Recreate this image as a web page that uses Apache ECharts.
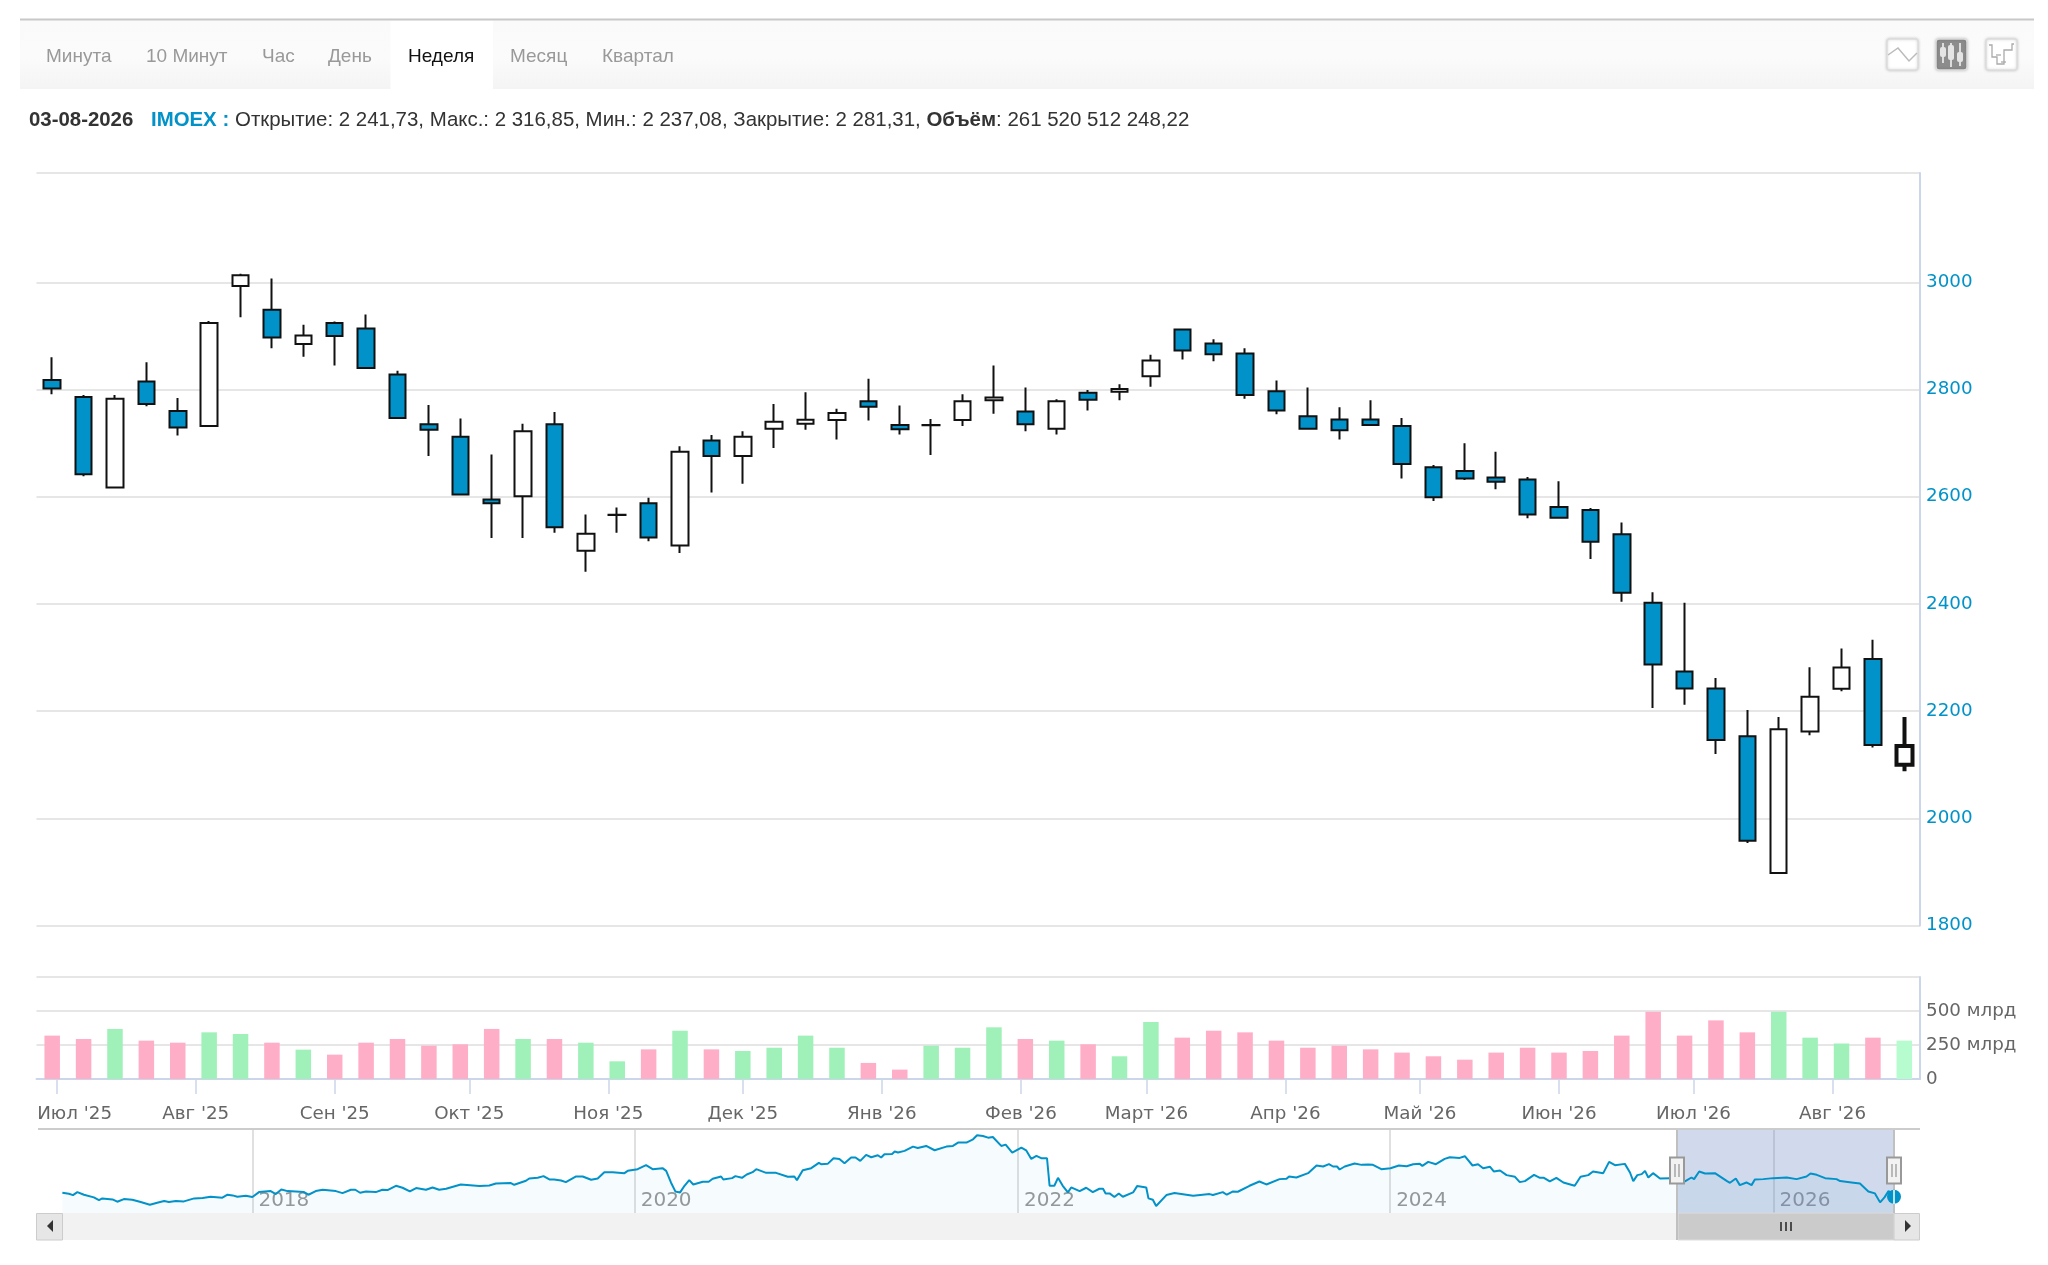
<!DOCTYPE html>
<html><head><meta charset="utf-8">
<style>html,body{margin:0;padding:0;background:#fff}#c{width:2048px;height:1265px}</style>
<script src="https://cdn.jsdelivr.net/npm/echarts@6/dist/echarts.min.js"></script>
</head><body><div id="c"></div>
<script>
const weeks=['2025-06-30','2025-07-07','2025-07-14','2025-07-21','2025-07-28','2025-08-04','2025-08-11','2025-08-18','2025-08-25','2025-09-01','2025-09-08','2025-09-15','2025-09-22','2025-09-29','2025-10-06','2025-10-13','2025-10-20','2025-10-27','2025-11-03','2025-11-10','2025-11-17','2025-11-24','2025-12-01','2025-12-08','2025-12-15','2025-12-22','2025-12-29','2026-01-05','2026-01-12','2026-01-19','2026-01-26','2026-02-02','2026-02-09','2026-02-16','2026-02-23','2026-03-02','2026-03-09','2026-03-16','2026-03-23','2026-03-30','2026-04-06','2026-04-13','2026-04-20','2026-04-27','2026-05-04','2026-05-11','2026-05-18','2026-05-25','2026-06-01','2026-06-08','2026-06-15','2026-06-22','2026-06-29','2026-07-06','2026-07-13','2026-07-20','2026-07-27','2026-08-03','2026-08-10','2026-08-17'];
const opens=[2818,2786,2617,2815,2760,2732,2993,2949,2885,2924,2914,2828,2735,2712,2595,2601,2735,2499,2566,2588,2509,2705,2676,2727,2736,2743,2778,2734,2733.5,2743,2780,2759,2727,2794,2796,2825,2912,2886,2867,2797,2750,2744,2744,2732,2655,2648,2636,2632,2581,2575,2530,2402,2274,2242,2153,1898,2162,2241.73,2297,2100];
const closes=[2802,2642,2783,2773,2729,2924,3013,2897,2901,2900,2840,2747,2725,2604,2588,2722,2543,2531,2566.6,2524,2684,2676,2712,2740,2743.5,2756,2768,2726,2734,2778,2785,2735,2778,2781,2801,2854,2873,2866,2790,2761,2727,2724,2734,2661,2599,2634,2628,2567,2561,2516,2421,2287,2242,2146,1958,2166,2227,2281.31,2137,2135];
const lows=[2791,2638,2616,2769,2714,2732,2935,2877,2861,2845,2840,2747,2676,2604,2523,2523,2533,2460,2533,2517,2495,2608,2624,2691,2725,2707,2742,2716,2678,2732,2755,2722,2716,2761,2780,2805,2856,2853,2783,2754,2727,2707,2733,2634,2592,2631,2614,2560,2561,2484,2404,2206,2212,2120,1954,1898,2155,2237.08,2132,2088];
const highs=[2860,2790,2790,2851,2784,2928,3016,3007,2921,2927,2940,2835,2771,2746,2679,2736,2758,2567,2580,2598,2694,2715,2722,2773,2795,2764,2820,2770,2745,2791,2845,2804,2782,2799,2810,2865,2912,2894,2877,2817,2804,2767,2780,2747,2659,2700,2684,2637,2629,2579,2552,2422,2402,2262,2202,2189,2282,2316.85,2333,2189];
const volumes=[319,294,368,282,267,343,331,267,216,179,267,294,245,255,368,294,294,267,130,218,355,218,206,230,319,230,118,69,245,230,380,294,282,255,167,419,304,355,343,282,230,245,218,194,167,142,194,230,194,206,319,495,319,431,343,495,304,261,304,282];
const monthTicks=['2025-07-01','2025-08-01','2025-09-01','2025-10-01','2025-11-01','2025-12-01','2026-01-01','2026-02-01','2026-03-01','2026-04-01','2026-05-01','2026-06-01','2026-07-01','2026-08-01'];
const monthNames=['Янв','Фев','Март','Апр','Май','Июн','Июл','Авг','Сен','Окт','Ноя','Дек'];
const priceTicks=[1800,2000,2200,2400,2600,2800,3000];
const volumeTicks=[0,250,500,750];
// navigator: trading weeks counted from Jan 2018, index close
const navWeeks=[-51.9,-50.1,-49,-47.8,-46,-43.3,-41.9,-41,-38.2,-36.9,-35.1,-32.8,-30.5,-28,-26,-24.1,-22.8,-20.9,-18.7,-15.9,-13.6,-11.4,-8.2,-6.8,-5.4,-4.1,-1.8,0,1.8,5,6.4,7.9,9.6,14.1,15.3,17.3,19.2,22.8,24.6,26.9,28.1,29.4,31,33.7,35.5,36.9,39.2,41,43,44.7,47.4,49.2,51,52.9,56.9,62,64.7,66.5,70.6,71.5,74.7,75.6,77.9,79.5,81.1,
82.4,84.3,85.6,88.4,90.2,92.5,94.3,96.1,98.4,101.6,102.5,105.2,107.5,109.3,112,113,114.3,115.5,116.8,118,119.3,120.4,123,124.6,125.7,128,128.6,131,131.9,133.7,135,136.6,137.6,140.3,143,146.2,148,148.7,150.3,152.6,154.7,155.3,157.1,158.7,160.3,161.7,163.5,164.7,166,167.6,169,170.8,171.7,172.6,174.7,175.4,176.3,178.1,180.4,181.7,184,186.3,189.5,191.3,192.7,195,196.8,197.9,199.5,200.9,202.2,204.5,205.7,207.5,210,211.3,212.7,214.1,215.4,217,217.7,
219,220,221.3,222.7,223.6,225.9,227.7,229.5,231.3,232.3,233,234.1,235.4,236.6,237.7,240.5,241.6,244.1,244.7,245.9,246.8,249.6,251.8,256.9,261.4,262.3,265,266.1,267.8,269.1,272.3,275,276.9,280.5,282.4,283.1,285.1,288.3,290.6,292.4,294,295.1,296.2,296.9,298.3,301,302.9,304.7,306,308.3,310.8,313.1,315.2,317,318.8,319.5,321.1,323.2,325.6,327,329.7,331.1,333.2,334.7,336.1,338,339,340.7,342.5,344.8,346.1,347.5,350,351.6,352.7,354.3,
356.1,358,361.1,362.7,364.8,366.1,368.9,370.5,372.1,374.8,376.2,377.1,378.2,379.4,380.3,381.2,382.5,384.4,387.1,389.4,391.2,393,393.7,395.1,396.7,399.4,402.6,403.5,405.1,406.2,408,409.4,410.3,412.6,415.3,419,421.7,424.4,425.5,427.2,429.5,432.6,433.6,436.7,439,441.3,443.1,444.5,445.7,446.8,448.3];
const navValues=[2286,2252,2206,2308,2218,2127,2036,2093,2059,1980,2070,2048,1968,1877,1946,2002,1968,2002,1991,2093,2104,2150,2116,2218,2195,2150,2184,2138,2308,2342,2240,2399,2342,2308,2218,2342,2388,2342,2274,2388,2388,2286,2331,2308,2388,2376,2524,2456,2331,2445,2388,2467,2388,2422,2569,2513,2535,2603,2615,2558,2694,2773,2796,2853,2739,
2739,2705,2649,2841,2841,2728,2773,2989,2989,2955,3034,3091,3227,3091,3125,3034,2637,2331,2297,2524,2717,2569,2660,2660,2762,2841,2739,2785,2853,2796,2910,2989,3091,2966,2966,2830,2841,2717,3057,3125,3306,3261,3272,3465,3442,3295,3488,3488,3374,3579,3499,3567,3488,3601,3613,3692,3658,3715,3862,3817,3885,3737,3862,3885,3998,3998,4111,4248,4225,4168,4191,3885,3930,3658,3828,3737,3442,3544,3465,3465,2524,
2524,2796,2524,2297,2467,2342,2456,2308,2422,2422,2263,2263,2138,2263,2150,2297,2513,2467,2093,2048,1832,2206,2274,2184,2240,2206,2308,2218,2331,2320,2524,2671,2569,2751,2762,2841,2807,2955,3216,3182,3261,3182,3182,3080,3182,3284,3238,3250,3238,3091,3125,3216,3193,3261,3272,3204,3340,3261,3442,3499,3476,3533,3216,3261,3125,3170,3012,3046,2887,2830,2649,2683,2898,2796,2796,2671,
2796,2637,2524,2830,2887,3012,2955,3340,3227,3272,2977,2683,2887,2921,3034,2807,2955,2773,2785,2785,2671,2807,2751,3012,2943,2955,2694,2626,2773,2546,2637,2546,2739,2751,2785,2807,2751,2841,2943,2898,2785,2751,2683,2637,2603,2331,2263,1957,2127,2343,2150];
const navYearWeeks=[0,104.4,209.1,310.7,415.4];
const navYears=['2018','2020','2022','2024','2026'];
const tabs=[['Минута',46],['10 Минут',146],['Час',262],['День',328],['Неделя',408],['Месяц',510],['Квартал',602]];

const ts=s=>Date.parse(s+'T00:00:00Z');
const BLUE='#0092c8',INK='#111',GRIDC='#e6e6e6',AXISC='#ccd6eb';
const halfWeek=3.5*864e5, xMin=ts(weeks[0])-halfWeek, xMax=ts(weeks[59])+halfWeek;
const NV=Math.min(navWeeks.length,navValues.length);
const navData=[];for(let i=0;i<NV;i++)navData.push([navWeeks[i],navValues[i]]);
const candleData=weeks.map((d,i)=>{
  const value=[ts(d),opens[i],closes[i],lows[i],highs[i]];
  return i===59?{value,itemStyle:{borderWidth:4,borderColor:INK,borderColor0:INK}}:value;
});
const volData=weeks.map((d,i)=>({value:[ts(d),volumes[i]],itemStyle:{color:closes[i]>opens[i]?(i===59?'#b6fccf':'#a0f0b9'):'#ffaec8'}}));

const G=[];
const rect=(x,y,w,h,style,z,r)=>G.push({type:'rect',silent:true,z:z||1,shape:{x,y,width:w,height:h,r:r||0},style});
const line=(x1,y1,x2,y2,stroke,lineWidth,z)=>G.push({type:'line',silent:true,z:z||5,shape:{x1,y1,x2,y2},style:{stroke,lineWidth:lineWidth||1}});
const poly=(points,stroke,lineWidth)=>G.push({type:'polyline',silent:true,z:6,shape:{points},style:{stroke,lineWidth:lineWidth||1.5,fill:null}});
const tri=(points,fill)=>G.push({type:'polygon',silent:true,z:6,shape:{points},style:{fill}});
// tab strip
rect(20,19.5,2014,69.5,{fill:{type:'linear',x:0,y:0,x2:0,y2:1,colorStops:[{offset:0,color:'#fafafa'},{offset:.55,color:'#fbfbfb'},{offset:1,color:'#f4f4f4'}]}});
rect(390.5,20.5,102.5,68.5,{fill:'#fff'},2);
line(20,19.5,2034,19.5,'#c8c8c8',2);
tabs.forEach(t=>G.push({type:'text',silent:true,z:5,x:t[1],y:57,style:{text:t[0],font:'19px "Liberation Sans"',fill:t[0]==='Неделя'?'#111':'#999',verticalAlign:'middle'}}));
// chart type buttons
[[1887,'#fff'],[1936,'#8c8c8c'],[1986,'#fff']].forEach(b=>rect(b[0],39,31,31,{fill:b[1],stroke:'#ddd',lineWidth:1.5,shadowBlur:3,shadowColor:'rgba(0,0,0,.18)'},3,3));
poly([[1888,55],[1898,48],[1909,61],[1917,53]],'#bbb',1.5);
[[1943,47,10,43,63],[1951,45,15,43,67],[1960,52,10,43,66]].forEach(c=>{line(c[0],c[3],c[0],c[4],'#ddd',2,6);rect(c[0]-3,c[1],6,c[2],{fill:'#e4e4e4'},7,2);});
poly([[1989,45],[1992,45],[1992,57],[1997,57],[1997,64],[2004,64],[2004,50],[2012,50],[2012,44],[2014,44]],'#aaa',1.3);
line(1996,55,2001,55,'#aaa',1.3,6);line(2001,62,2006,62,'#aaa',1.3,6);
// info line
G.push({type:'text',silent:true,z:5,x:29,y:120,style:{text:'03-08-2026',font:'bold 20.4px "Liberation Sans"',fill:'#333',verticalAlign:'middle'}});
G.push({type:'text',silent:true,z:5,x:151,y:120,style:{text:'IMOEX :',font:'bold 20.4px "Liberation Sans"',fill:'#0092c8',verticalAlign:'middle'}});
G.push({type:'text',silent:true,z:5,x:235,y:120,style:{text:'{a|Открытие: 2 241,73, Макс.: 2 316,85, Мин.: 2 237,08, Закрытие: 2 281,31, }{b|Объём}{a|: 261 520 512 248,22}',verticalAlign:'middle',rich:{a:{font:'20.45px "Liberation Sans"',fill:'#333'},b:{font:'bold 20.45px "Liberation Sans"',fill:'#333'}}}});
// navigator frame and scrollbar
line(38,1129,1920,1129,'#ccc',2);
rect(62,1213,1615,27,{fill:'#f2f2f2'});
rect(36.5,1213.5,26,26.5,{fill:'#e6e6e6',stroke:'#ccc',lineWidth:1},2);
tri([[53,1220],[53,1232],[47,1226]],'#333');
rect(1678,1213,216,27,{fill:'#cbcbcb',stroke:'#ddd',lineWidth:1},2);
line(1781,1222,1781,1231,'#222',1.5);line(1786,1222,1786,1231,'#222',1.5);line(1791,1222,1791,1231,'#222',1.5);
rect(1894,1213.5,25.5,26.5,{fill:'#e6e6e6',stroke:'#ccc',lineWidth:1},2);
tri([[1905,1220],[1905,1232],[1911,1226]],'#333');
// selection edges and handles
line(1677,1129,1677,1240,'#c0c0c0',2,4);line(1894,1129,1894,1213,'#c0c0c0',2,4);
[1677,1894].forEach(x=>{rect(x-7,1157.5,14,26,{fill:'#f2f2f2',stroke:'#999',lineWidth:2},9);line(x-2,1164,x-2,1177,'#999',1.3,10);line(x+2,1164,x+2,1177,'#999',1.3,10);});
line(1894,1190,1894,1204,'#fff',1.5,12);

const option={
  animation:false,backgroundColor:'#fff',
  grid:[
    {left:36.5,width:1883.5,top:173,height:752.5},
    {left:36.5,width:1883.5,top:977,height:102},
    {left:36.5,width:1883.5,top:1129,height:84}
  ],
  xAxis:[
    {gridIndex:0,type:'value',min:xMin,max:xMax,show:false},
    {gridIndex:1,type:'value',min:xMin,max:xMax,offset:9,
     axisLine:{show:true,lineStyle:{color:AXISC,width:2}},
     axisTick:{show:true,length:15,customValues:monthTicks.map(ts),lineStyle:{color:AXISC,width:1.5}},
     axisLabel:{show:true,margin:17.5,color:'#666',fontSize:18.3,fontFamily:'DejaVu Sans',hideOverlap:false,showMinLabel:true,showMaxLabel:true,
       customValues:[ts('2025-07-05')].concat(monthTicks.slice(1).map(ts)),
       formatter:v=>{const d=new Date(v);return monthNames[d.getUTCMonth()]+" '"+String(d.getUTCFullYear()).slice(2);}},
     splitLine:{show:false}},
    {gridIndex:2,type:'value',min:-58.96,max:455.4,
     axisLine:{show:false},axisTick:{show:false,customValues:navYearWeeks},
     splitLine:{show:true,lineStyle:{color:'#e0e0e0',width:2}},
     axisLabel:{show:true,inside:true,margin:2,align:'left',padding:[0,0,0,6],color:'#999',fontSize:20,fontFamily:'DejaVu Sans',customValues:navYearWeeks,
       formatter:v=>navYears[navYearWeeks.indexOf(v)]||''}}
  ],
  yAxis:[
    {gridIndex:0,type:'value',position:'right',min:1800,max:3204,
     axisLine:{show:true,lineStyle:{color:AXISC,width:2}},
     axisTick:{show:false,customValues:priceTicks.concat([3204])},
     splitLine:{show:true,lineStyle:{color:GRIDC,width:2}},
     axisLabel:{margin:6,padding:[3,0,0,0],color:BLUE,fontSize:18.3,fontFamily:'DejaVu Sans',customValues:priceTicks,formatter:v=>String(v)}},
    {gridIndex:1,type:'value',position:'right',min:0,max:750,
     axisLine:{show:true,lineStyle:{color:AXISC,width:2}},axisTick:{show:false,customValues:volumeTicks},
     splitLine:{show:true,lineStyle:{color:GRIDC,width:2}},
     axisLabel:{margin:6,padding:[3,0,0,0],color:'#666',fontSize:18.3,fontFamily:'DejaVu Sans',customValues:volumeTicks.slice(0,3),formatter:v=>v===0?'0':v+' млрд'}},
    {gridIndex:2,type:'value',min:1594,max:4463,show:false}
  ],
  series:[
    {type:'candlestick',xAxisIndex:0,yAxisIndex:0,barWidth:17,silent:true,data:candleData,
     itemStyle:{color:'#fff',color0:BLUE,borderColor:INK,borderColor0:INK,borderColorDoji:INK,borderWidth:2}},
    {type:'bar',xAxisIndex:1,yAxisIndex:1,barWidth:15.5,silent:true,data:volData},
    {type:'line',xAxisIndex:2,yAxisIndex:2,showSymbol:false,silent:true,data:navData,smooth:false,
     lineStyle:{color:BLUE,width:2},areaStyle:{color:'rgba(0,146,200,0.05)'},
     markArea:{silent:true,itemStyle:{color:'rgba(102,133,194,0.3)'},data:[[{xAxis:389,yAxis:1594},{xAxis:448.3,yAxis:4463}]]},
     markPoint:{silent:true,symbol:'circle',symbolSize:14,itemStyle:{color:BLUE},label:{show:false},data:[{coord:navData[NV-1]}]}}
  ],
  graphic:{elements:G}
};
echarts.init(document.getElementById('c'),null,{renderer:'canvas'}).setOption(option);
</script></body></html>
